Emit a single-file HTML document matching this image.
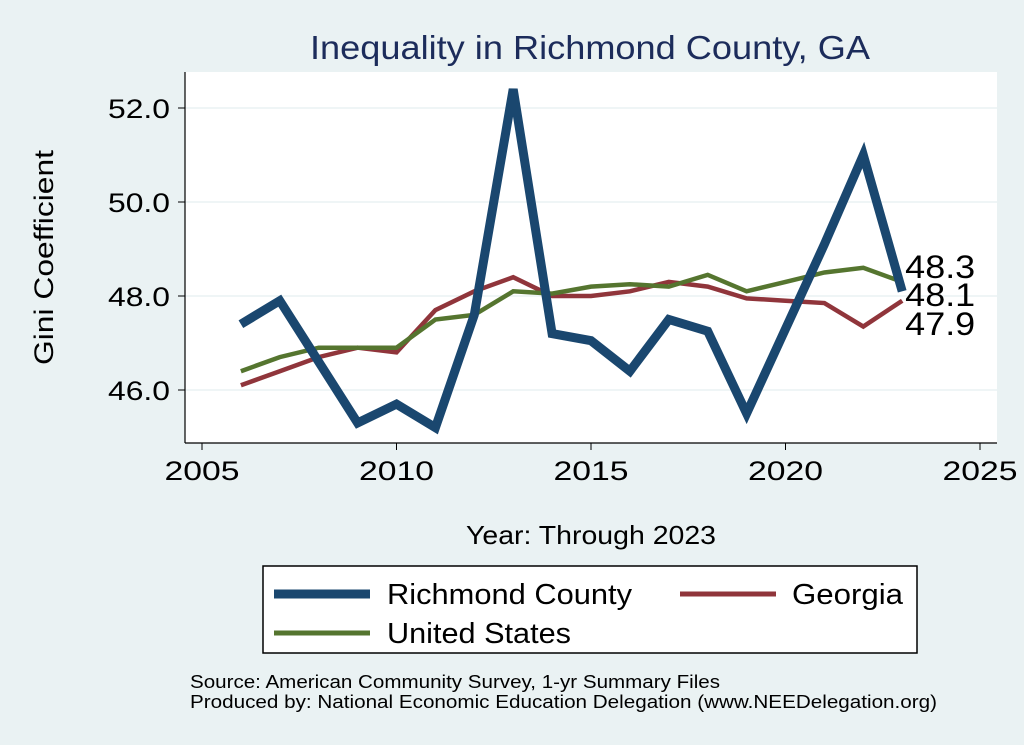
<!DOCTYPE html>
<html><head><meta charset="utf-8"><style>
body{margin:0;background:#eaf2f3;}
svg{display:block;font-family:"Liberation Sans",Arial,sans-serif;}
</style></head><body>
<svg id="chart" width="1024" height="745">
<rect x="0" y="0" width="1024" height="745" fill="#eaf2f3"/>
<text x="310" y="59" font-size="33" fill="#1c2c5b" textLength="560" lengthAdjust="spacingAndGlyphs">Inequality in Richmond County, GA</text>
<rect x="185" y="72" width="812" height="371" fill="#ffffff"/>
<g id="grid"></g>
<g id="axes"></g>
<g id="series"></g>
<text x="466" y="544" font-size="26" textLength="250" lengthAdjust="spacingAndGlyphs">Year: Through 2023</text>
<text transform="translate(53,365) rotate(-90)" font-size="27" textLength="215" lengthAdjust="spacingAndGlyphs">Gini Coefficient</text>
<g>
<rect x="263" y="566" width="654" height="87" fill="#fff" stroke="#000" stroke-width="1.5"/>
<line x1="274" y1="594" x2="370" y2="594" stroke="#1a476f" stroke-width="9"/>
<text x="387" y="604" font-size="29" textLength="245" lengthAdjust="spacingAndGlyphs">Richmond County</text>
<line x1="680" y1="594" x2="776" y2="594" stroke="#90353b" stroke-width="5"/>
<text x="792" y="604" font-size="29" textLength="111" lengthAdjust="spacingAndGlyphs">Georgia</text>
<line x1="274" y1="633" x2="370" y2="633" stroke="#55752f" stroke-width="5"/>
<text x="387" y="643" font-size="29" textLength="184" lengthAdjust="spacingAndGlyphs">United States</text>
</g>
<text x="190" y="688" font-size="18" textLength="530" lengthAdjust="spacingAndGlyphs">Source: American Community Survey, 1-yr Summary Files</text>
<text x="190" y="708" font-size="18" textLength="747" lengthAdjust="spacingAndGlyphs">Produced by: National Economic Education Delegation (www.NEEDelegation.org)</text>
</svg>
<script>
const years=[2006,2007,2008,2009,2010,2011,2012,2013,2014,2015,2016,2017,2018,2019,2020,2021,2022,2023];
const richmond=[47.4,47.9,46.6,45.3,45.7,45.2,47.6,52.4,47.2,47.05,46.4,47.5,47.25,45.5,47.3,49.1,51.0,48.1];
const georgia=[46.1,46.4,46.7,46.9,46.8,47.7,48.1,48.4,48.0,48.0,48.1,48.3,48.2,47.95,47.9,47.85,47.35,47.9];
const us=[46.4,46.7,46.9,46.9,46.9,47.5,47.6,48.1,48.05,48.2,48.25,48.2,48.45,48.1,48.3,48.5,48.6,48.3];
const xTicks=[2005,2010,2015,2020,2025];
const yTicks=[46,48,50,52];
const lastLabels=["48.3","48.1","47.9"];
const NS="http://www.w3.org/2000/svg";
function X(v){return 202+(v-2005)*38.9;}
function Y(v){return 296-(v-48)*47;}
function mk(t,a,p){const e=document.createElementNS(NS,t);for(const k in a)e.setAttribute(k,a[k]);p.appendChild(e);return e;}
const grid=document.getElementById('grid'),axes=document.getElementById('axes'),ser=document.getElementById('series');
yTicks.forEach(v=>{
 const g=mk('line',{x1:185,x2:997,y1:Y(v),y2:Y(v),stroke:'#eaf2f3','stroke-width':1.5},grid);
 
 
 mk('line',{x1:178,x2:185,y1:Y(v),y2:Y(v),stroke:'#000'},axes);
 const t=mk('text',{x:170,y:Y(v)+10,'font-size':27,'text-anchor':'end',textLength:62,lengthAdjust:'spacingAndGlyphs'},axes);t.textContent=v.toFixed(1);
 
 
});
mk('line',{x1:185,x2:185,y1:72,y2:443,stroke:'#000','stroke-width':1.2},axes);
mk('line',{x1:185,x2:997,y1:443,y2:443,stroke:'#000','stroke-width':1.2},axes);
xTicks.forEach(v=>{
 mk('line',{x1:X(v),x2:X(v),y1:443,y2:450,stroke:'#000'},axes);
 const t=mk('text',{x:X(v),y:480,'font-size':27,'text-anchor':'middle',textLength:75,lengthAdjust:'spacingAndGlyphs'},axes);t.textContent=v;
 
 
});
function line(arr,color,w,name){
 const p=mk('polyline',{points:arr.map((v,i)=>X(years[i])+','+Y(v)).join(' '),fill:'none',stroke:color,'stroke-width':w,'stroke-linejoin':'miter'},ser);
 
 
}
line(georgia,'#90353b',4.5,'line-georgia');
line(us,'#55752f',4.5,'line-us');
line(richmond,'#1a476f',9,'line-richmond');
const n=years.length-1;
[us[n],richmond[n],georgia[n]].forEach((v,i)=>{
 const t=mk('text',{x:X(years[n])+3,y:[278,306,335][i],'font-size':32,textLength:70,lengthAdjust:'spacingAndGlyphs'},ser);t.textContent=lastLabels[i];
 
 
});
</script>
</body></html>
